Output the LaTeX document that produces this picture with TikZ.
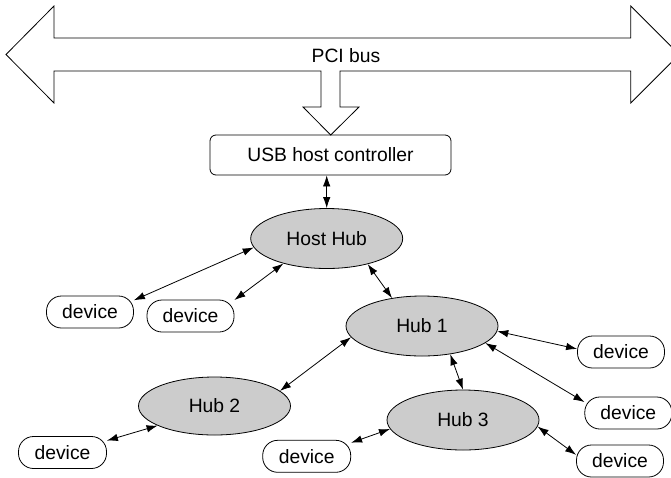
\documentclass[tikz,border=0pt]{standalone}
\usepackage{fontspec}
\setmainfont{Liberation Sans}
\usetikzlibrary{shapes.geometric,arrows.meta}
\begin{document}
\begin{tikzpicture}[x=1pt,y=-1pt,
  every node/.style={font=\fontsize{19.3}{22}\selectfont},
  hub/.style={ellipse,draw,line width=0.8pt,fill=black!20,minimum width=152pt,minimum height=60pt,inner sep=0pt},
  dev/.style={draw,line width=0.8pt,rounded corners=15pt,minimum width=87pt,minimum height=32pt,inner sep=0pt},
  ctrl/.style={draw,line width=0.8pt,rounded corners=6pt,minimum width=241pt,minimum height=40pt,inner sep=0pt},
  link/.style={line width=0.8pt,{Latex[length=11pt,width=7.5pt]}-{Latex[length=11pt,width=7.5pt]}}]
\useasboundingbox (0,0) rectangle (671,477);
\clip (0,0) rectangle (671,477);
% PCI bus arrow
\draw[line width=0.8pt,line join=miter] (6,54.5) -- (54,6) -- (54,38) -- (630.7,38) -- (630.7,6) -- (679.2,54.5)
  -- (630.7,103) -- (630.7,71) -- (340,71) -- (340,107) -- (359,107) -- (330.7,135) -- (303,107)
  -- (321,107) -- (321,71) -- (54,71) -- (54,103) -- cycle;
\node (pci) at (346,56) {PCI bus};
% nodes
\node[ctrl] (usb) at (330.5,155) {USB host controller};
\node[hub] (hh) at (326.7,238.5) {Host Hub};
\node[hub] (h1) at (422,326) {Hub 1};
\node[hub,minimum height=58pt] (h2) at (214.5,406) {Hub 2};
\node[hub] (h3) at (463,420) {Hub 3};
\node[dev] (d1) at (90,312) {device};
\node[dev] (d2) at (190.5,316) {device};
\node[dev] (dr1) at (621,352) {device};
\node[dev] (dr2) at (628.3,413) {device};
\node[dev] (dr3) at (620,461) {device};
\node[dev,minimum width=88pt] (dl) at (306.7,456.3) {device};
\node[dev,minimum width=88pt] (dbl) at (62.5,452.5) {device};
% links
\draw[link] (usb.south -| hh.north) -- (hh.north);
\draw[link] (hh.187) -- (d1.15);
\draw[link] (hh.210) -- (d2.20);
\draw[link] (hh.328) -- (h1.137.5);
\draw[link] (h1.189) -- (h2.13);
\draw[link] (h1.315) -- (h3.90);
\draw[link] (h1.356.5) -- (dr1.176);
\draw[link] (h1.345) -- (dr2.166);
\draw[link] (h2.199) -- (dbl.15);
\draw[link] (h3.187) -- (dl.17);
\draw[link] (h3.355) -- (dr3.172);
\end{tikzpicture}
\end{document}
